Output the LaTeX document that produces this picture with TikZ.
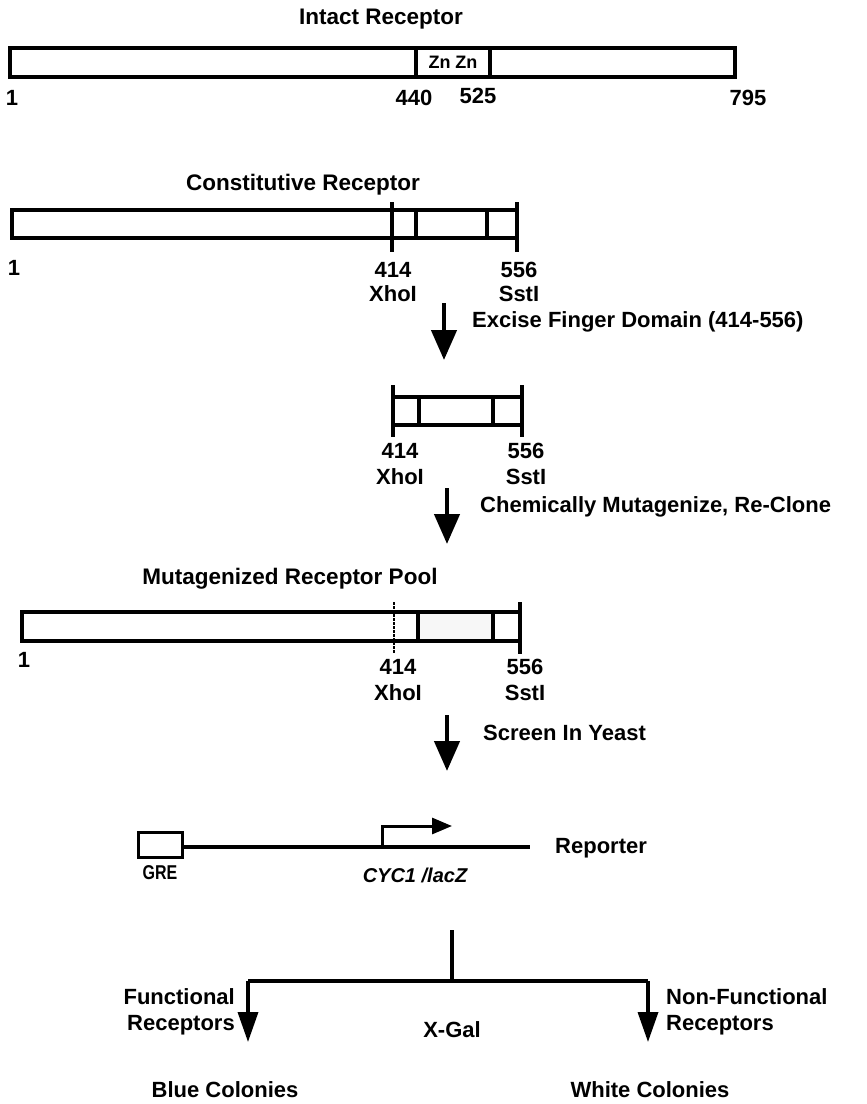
\documentclass[tikz,border=0pt]{standalone}
\usepackage{fontspec}
\setmainfont{Liberation Sans}
\usetikzlibrary{arrows.meta}
\begin{document}
\begin{tikzpicture}[x=1pt,y=-1pt,
  bar/.style={line width=3.2pt},
  tick/.style={line width=3.2pt},
  lbl/.style={font=\fontsize{22}{26}\selectfont\bfseries, inner sep=0pt},
  ttl/.style={font=\fontsize{22.5}{26}\selectfont\bfseries, inner sep=0pt},
  bigarrow/.style={line width=4.5pt, -{Triangle[width=25pt,length=30pt]}},
  conn/.style={line width=3.2pt}]
\fill[white] (0,0) rectangle (867,1104);
\useasboundingbox (0,0) rectangle (867,1104);

% ---------- Intact receptor
\node[ttl] (t1) at (381,19) {Intact Receptor};
\draw[bar] (10,48) rectangle (735,77);
\draw[tick] (416,48) -- (416,77);
\draw[tick] (490,48) -- (490,77);
\node[font=\fontsize{18}{20}\selectfont\bfseries, inner sep=0pt] (zn) at (453,62) {Zn\hspace{5pt}Zn};
\node[lbl] (n1a) at (12,98) {1};
\node[lbl] (n1b) at (414,98) {440};
\node[lbl] (n1c) at (478,96) {525};
\node[lbl] (n1d) at (748,98) {795};

% ---------- Constitutive receptor
\node[ttl] (t2) at (303,185) {Constitutive Receptor};
\draw[bar] (12,210) rectangle (517,238);
\draw[tick] (392,202) -- (392,252);
\draw[tick] (517,202) -- (517,252);
\draw[tick] (416,210) -- (416,238);
\draw[tick] (487,210) -- (487,238);
\node[lbl] (n2a) at (14,268) {1};
\node[lbl] (n2b) at (393,270) {414};
\node[lbl] (n2c) at (519,270) {556};
\node[lbl] (n2d) at (393,294) {XhoI};
\node[lbl] (n2e) at (519,294) {SstI};

% arrow 1
\coordinate (a1s) at (444,303);
\coordinate (a1e) at (444,360);
\draw[bigarrow] (a1s) -- (a1e);
\node[lbl, anchor=west] (l1) at (472,322) {Excise Finger Domain (414-556)};

% ---------- Fragment
\draw[bar] (393,397) -- (522,397);
\draw[bar] (393,425) -- (522,425);
\draw[tick] (393,385) -- (393,437);
\draw[tick] (522,385) -- (522,437);
\draw[tick] (419,397) -- (419,425);
\draw[tick] (493,397) -- (493,425);
\node[lbl] (n3a) at (400,451) {414};
\node[lbl] (n3b) at (526,451) {556};
\node[lbl] (n3c) at (400,477) {XhoI};
\node[lbl] (n3d) at (526,477) {SstI};

% arrow 2
\coordinate (a2s) at (447,488);
\coordinate (a2e) at (447,544);
\draw[bigarrow] (a2s) -- (a2e);
\node[lbl, anchor=west] (l2) at (480,507) {Chemically Mutagenize, Re-Clone};

% ---------- Mutagenized pool
\node[ttl] (t3) at (290,579) {Mutagenized Receptor Pool};
\fill[black!3] (418,612) rectangle (493,641);
\draw[bar] (22,612) rectangle (520,641);
\draw[line width=2.6pt, dash pattern=on 3pt off 1pt] (394,602) -- (394,654);
\draw[tick] (520,602) -- (520,654);
\draw[tick] (418,612) -- (418,641);
\draw[tick] (493,612) -- (493,641);
\node[lbl] (n4a) at (24,660) {1};
\node[lbl] (n4b) at (398,667) {414};
\node[lbl] (n4c) at (525,667) {556};
\node[lbl] (n4d) at (398,693) {XhoI};
\node[lbl] (n4e) at (525,693) {SstI};

% arrow 3
\coordinate (a3s) at (447,715);
\coordinate (a3e) at (447,771);
\draw[bigarrow] (a3s) -- (a3e);
\node[lbl, anchor=west] (l3) at (483,733) {Screen In Yeast};

% ---------- Reporter
\node[draw, line width=3pt, minimum width=44pt, minimum height=25pt, inner sep=0pt] (gre) at (160,845) {};
\coordinate (repend) at (530,847);
\draw[conn] (gre.east |- 0,847) -- (repend);
\coordinate (pstart) at (382,847);
\coordinate (ptip) at (452,826);
\draw[line width=3pt, -{Triangle[width=16pt,length=20pt]}] (pstart) -- (382,826) -- (ptip);
\node[font=\fontsize{20}{23}\selectfont\bfseries, inner sep=0pt, xscale=0.8] (grel) at (160,873) {GRE};
\node[lbl, font=\fontsize{20}{23}\selectfont\bfseries\itshape] (cyc) at (415,875) {CYC1 /lacZ};
\node[lbl, anchor=west] (rep) at (555,848) {Reporter};

% ---------- Tree
\coordinate (top) at (452,930);
\coordinate (mid) at (452,981);
\coordinate (lft) at (248,981);
\coordinate (rgt) at (648,981);
\coordinate (lftend) at (248,1042);
\coordinate (rgtend) at (648,1042);
\draw[conn] (top) -- (mid);
\draw[line width=4.5pt] (lft) -- (rgt);
\draw[line width=3.5pt, -{Triangle[width=20pt,length=30pt]}] (lft) -- (lftend);
\draw[line width=3.5pt, -{Triangle[width=20pt,length=30pt]}] (rgt) -- (rgtend);
\node[lbl, anchor=east, align=right] (func) at (235,1012) {Functional\\Receptors};
\node[lbl] (xgal) at (452,1030) {X-Gal};
\node[lbl, anchor=west, align=left] (nfunc) at (666,1012) {Non-Functional\\Receptors};
\node[lbl] (blue) at (225,1090) {Blue Colonies};
\node[lbl] (white) at (650,1090) {White Colonies};
\end{tikzpicture}
\end{document}
